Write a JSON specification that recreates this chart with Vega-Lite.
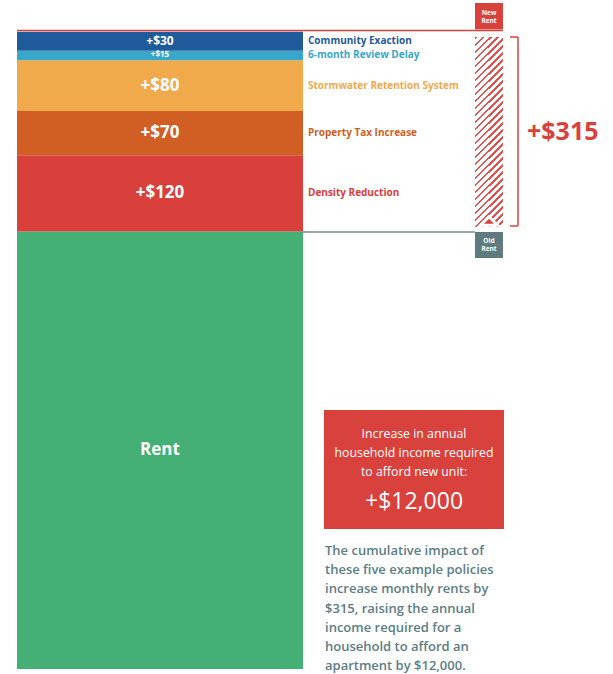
{
  "$schema": "https://vega.github.io/schema/vega-lite/v6.json",
  "width": 613,
  "height": 674,
  "autosize": {"type": "none"},
  "padding": 0,
  "background": "white",
  "config": {
    "view": {"stroke": null},
    "axis": {"disable": true},
    "legend": {"disable": true},
    "font": "Open Sans"
  },
  "datasets": {
    "rents": [
      {"item": "Rent", "label": "Rent", "amount": 690, "level": 1},
      {"item": "Density Reduction", "label": "+$120", "amount": 120, "level": 2},
      {"item": "Property Tax Increase", "label": "+$70", "amount": 70, "level": 3},
      {"item": "Stormwater Retention System", "label": "+$80", "amount": 80, "level": 4},
      {"item": "6-month Review Delay", "label": "+$15", "amount": 15, "level": 5},
      {"item": "Community Exaction", "label": "+$30", "amount": 30, "level": 6}
    ]
  },
  "resolve": {"scale": {"x": "independent"}},
  "layer": [
    {
      "data": {"name": "rents"},
      "layer": [
        {
          "mark": {"type": "bar"},
          "encoding": {
            "x": {"datum": "rent", "type": "nominal", "scale": {"paddingInner": 0, "paddingOuter": 0.5717, "align": 0.052}},
            "y": {"field": "amount", "type": "quantitative", "stack": "zero", "scale": {"domain": [-8, 1055], "nice": false, "zero": false}},
            "order": {"field": "level", "type": "quantitative"},
            "color": {
              "field": "item", "type": "nominal",
              "scale": {
                "domain": ["Rent", "Density Reduction", "Property Tax Increase", "Stormwater Retention System", "6-month Review Delay", "Community Exaction"],
                "range": ["#45b076", "#d9403c", "#d15e22", "#f1aa4b", "#38a7c9", "#1f5a9b"]
              },
              "legend": null
            }
          }
        },
        {
          "mark": {"type": "text", "color": "white", "font": "Open Sans", "fontWeight": "bold", "baseline": "middle", "align": "center"},
          "encoding": {
            "x": {"datum": "rent", "type": "nominal"},
            "y": {"field": "amount", "type": "quantitative", "stack": "zero", "bandPosition": 0.5},
            "order": {"field": "level", "type": "quantitative"},
            "detail": {"field": "item", "type": "nominal"},
            "size": {"condition": [{"test": "datum.amount < 20", "value": 8}, {"test": "datum.amount < 40", "value": 12}], "value": 17},
            "text": {"field": "label"}
          }
        },
        {
          "mark": {"type": "text", "font": "Open Sans", "fontWeight": "bold", "fontSize": 10, "baseline": "middle", "align": "left", "dx": 5},
          "encoding": {
            "x": {"datum": "rent", "type": "nominal", "bandPosition": 1},
            "y": {"field": "amount", "type": "quantitative", "stack": "zero", "bandPosition": 0.5},
            "order": {"field": "level", "type": "quantitative"},
            "color": {"field": "item", "type": "nominal", "legend": null},
            "opacity": {"condition": {"test": "datum.item === 'Rent'", "value": 0}, "value": 1},
            "text": {"field": "item"}
          }
        }
      ]
    },
    {
      "data": {"values": [{}]},
      "layer": [
        {
          "mark": {"type": "rule", "color": "#9aa7ab", "strokeWidth": 2},
          "encoding": {
            "x": {"datum": 49.43, "type": "quantitative", "scale": {"domain": [0, 100], "nice": false, "zero": false}},
            "x2": {"datum": 77.49},
            "y": {"datum": 689, "type": "quantitative"}
          }
        },
        {
          "mark": {"type": "rule", "color": "#d9413d", "strokeWidth": 1.5},
          "encoding": {
            "x": {"datum": 2.77, "type": "quantitative"},
            "x2": {"datum": 82.05},
            "y": {"datum": 1007, "type": "quantitative"}
          }
        },
        {
          "mark": {"type": "rect", "color": "#d9413d"},
          "encoding": {
            "x": {"datum": 77.49, "type": "quantitative"},
            "x2": {"datum": 82.05},
            "y": {"datum": 1008.6, "type": "quantitative"},
            "y2": {"datum": 1050.3}
          }
        },
        {
          "mark": {"type": "text", "text": "New\nRent", "lineBreak": "\n", "lineHeight": 8, "color": "white", "fontSize": 6.5, "fontWeight": "bold", "align": "center", "baseline": "middle"},
          "encoding": {
            "x": {"datum": 79.77, "type": "quantitative"},
            "y": {"datum": 1034.5, "type": "quantitative"}
          }
        },
        {
          "mark": {
            "type": "rect",
            "fill": {
              "gradient": "linear", "x1": 0, "y1": 0, "x2": 0.1591, "y2": 1.1195,
              "stops": [
                {"offset": 0, "color": "#e0524e"}, {"offset": 0.0115, "color": "#e0524e"}, {"offset": 0.0115, "color": "#ffffff"},
                {"offset": 0.0323, "color": "#ffffff"}, {"offset": 0.0323, "color": "#e0524e"}, {"offset": 0.0438, "color": "#e0524e"}, {"offset": 0.0438, "color": "#ffffff"},
                {"offset": 0.0645, "color": "#ffffff"}, {"offset": 0.0645, "color": "#e0524e"}, {"offset": 0.0760, "color": "#e0524e"}, {"offset": 0.0760, "color": "#ffffff"},
                {"offset": 0.0968, "color": "#ffffff"}, {"offset": 0.0968, "color": "#e0524e"}, {"offset": 0.1083, "color": "#e0524e"}, {"offset": 0.1083, "color": "#ffffff"},
                {"offset": 0.1290, "color": "#ffffff"}, {"offset": 0.1290, "color": "#e0524e"}, {"offset": 0.1406, "color": "#e0524e"}, {"offset": 0.1406, "color": "#ffffff"},
                {"offset": 0.1613, "color": "#ffffff"}, {"offset": 0.1613, "color": "#e0524e"}, {"offset": 0.1728, "color": "#e0524e"}, {"offset": 0.1728, "color": "#ffffff"},
                {"offset": 0.1935, "color": "#ffffff"}, {"offset": 0.1935, "color": "#e0524e"}, {"offset": 0.2051, "color": "#e0524e"}, {"offset": 0.2051, "color": "#ffffff"},
                {"offset": 0.2258, "color": "#ffffff"}, {"offset": 0.2258, "color": "#e0524e"}, {"offset": 0.2373, "color": "#e0524e"}, {"offset": 0.2373, "color": "#ffffff"},
                {"offset": 0.2581, "color": "#ffffff"}, {"offset": 0.2581, "color": "#e0524e"}, {"offset": 0.2696, "color": "#e0524e"}, {"offset": 0.2696, "color": "#ffffff"},
                {"offset": 0.2903, "color": "#ffffff"}, {"offset": 0.2903, "color": "#e0524e"}, {"offset": 0.3018, "color": "#e0524e"}, {"offset": 0.3018, "color": "#ffffff"},
                {"offset": 0.3226, "color": "#ffffff"}, {"offset": 0.3226, "color": "#e0524e"}, {"offset": 0.3341, "color": "#e0524e"}, {"offset": 0.3341, "color": "#ffffff"},
                {"offset": 0.3548, "color": "#ffffff"}, {"offset": 0.3548, "color": "#e0524e"}, {"offset": 0.3664, "color": "#e0524e"}, {"offset": 0.3664, "color": "#ffffff"},
                {"offset": 0.3871, "color": "#ffffff"}, {"offset": 0.3871, "color": "#e0524e"}, {"offset": 0.3986, "color": "#e0524e"}, {"offset": 0.3986, "color": "#ffffff"},
                {"offset": 0.4194, "color": "#ffffff"}, {"offset": 0.4194, "color": "#e0524e"}, {"offset": 0.4309, "color": "#e0524e"}, {"offset": 0.4309, "color": "#ffffff"},
                {"offset": 0.4516, "color": "#ffffff"}, {"offset": 0.4516, "color": "#e0524e"}, {"offset": 0.4631, "color": "#e0524e"}, {"offset": 0.4631, "color": "#ffffff"},
                {"offset": 0.4839, "color": "#ffffff"}, {"offset": 0.4839, "color": "#e0524e"}, {"offset": 0.4954, "color": "#e0524e"}, {"offset": 0.4954, "color": "#ffffff"},
                {"offset": 0.5161, "color": "#ffffff"}, {"offset": 0.5161, "color": "#e0524e"}, {"offset": 0.5276, "color": "#e0524e"}, {"offset": 0.5276, "color": "#ffffff"},
                {"offset": 0.5484, "color": "#ffffff"}, {"offset": 0.5484, "color": "#e0524e"}, {"offset": 0.5599, "color": "#e0524e"}, {"offset": 0.5599, "color": "#ffffff"},
                {"offset": 0.5806, "color": "#ffffff"}, {"offset": 0.5806, "color": "#e0524e"}, {"offset": 0.5922, "color": "#e0524e"}, {"offset": 0.5922, "color": "#ffffff"},
                {"offset": 0.6129, "color": "#ffffff"}, {"offset": 0.6129, "color": "#e0524e"}, {"offset": 0.6244, "color": "#e0524e"}, {"offset": 0.6244, "color": "#ffffff"},
                {"offset": 0.6452, "color": "#ffffff"}, {"offset": 0.6452, "color": "#e0524e"}, {"offset": 0.6567, "color": "#e0524e"}, {"offset": 0.6567, "color": "#ffffff"},
                {"offset": 0.6774, "color": "#ffffff"}, {"offset": 0.6774, "color": "#e0524e"}, {"offset": 0.6889, "color": "#e0524e"}, {"offset": 0.6889, "color": "#ffffff"},
                {"offset": 0.7097, "color": "#ffffff"}, {"offset": 0.7097, "color": "#e0524e"}, {"offset": 0.7212, "color": "#e0524e"}, {"offset": 0.7212, "color": "#ffffff"},
                {"offset": 0.7419, "color": "#ffffff"}, {"offset": 0.7419, "color": "#e0524e"}, {"offset": 0.7534, "color": "#e0524e"}, {"offset": 0.7534, "color": "#ffffff"},
                {"offset": 0.7742, "color": "#ffffff"}, {"offset": 0.7742, "color": "#e0524e"}, {"offset": 0.7857, "color": "#e0524e"}, {"offset": 0.7857, "color": "#ffffff"},
                {"offset": 0.8065, "color": "#ffffff"}, {"offset": 0.8065, "color": "#e0524e"}, {"offset": 0.8180, "color": "#e0524e"}, {"offset": 0.8180, "color": "#ffffff"},
                {"offset": 0.8387, "color": "#ffffff"}, {"offset": 0.8387, "color": "#e0524e"}, {"offset": 0.8502, "color": "#e0524e"}, {"offset": 0.8502, "color": "#ffffff"},
                {"offset": 0.8710, "color": "#ffffff"}, {"offset": 0.8710, "color": "#e0524e"}, {"offset": 0.8825, "color": "#e0524e"}, {"offset": 0.8825, "color": "#ffffff"},
                {"offset": 0.9032, "color": "#ffffff"}, {"offset": 0.9032, "color": "#e0524e"}, {"offset": 0.9147, "color": "#e0524e"}, {"offset": 0.9147, "color": "#ffffff"},
                {"offset": 0.9355, "color": "#ffffff"}, {"offset": 0.9355, "color": "#e0524e"}, {"offset": 0.9470, "color": "#e0524e"}, {"offset": 0.9470, "color": "#ffffff"},
                {"offset": 0.9677, "color": "#ffffff"}, {"offset": 0.9677, "color": "#e0524e"}, {"offset": 0.9792, "color": "#e0524e"}, {"offset": 0.9792, "color": "#ffffff"},
                {"offset": 1, "color": "#ffffff"}
              ]
            }
          },
          "encoding": {
            "x": {"datum": 77.49, "type": "quantitative"},
            "x2": {"datum": 82.05},
            "y": {"datum": 697, "type": "quantitative"},
            "y2": {"datum": 996.6}
          }
        },
        {
          "mark": {"type": "point", "shape": "M-1,0.5L0,-0.5L1,0.5Z", "filled": true, "fill": "#d9413d", "stroke": "white", "strokeWidth": 3, "opacity": 1, "size": 289},
          "encoding": {
            "x": {"datum": 79.77, "type": "quantitative"},
            "y": {"datum": 706.4, "type": "quantitative"}
          }
        },
        {
          "mark": {"type": "rect", "color": "#5f7b7e"},
          "encoding": {
            "x": {"datum": 77.49, "type": "quantitative"},
            "x2": {"datum": 82.05},
            "y": {"datum": 648.1, "type": "quantitative"},
            "y2": {"datum": 689.1}
          }
        },
        {
          "mark": {"type": "text", "text": "Old\nRent", "lineBreak": "\n", "lineHeight": 8, "color": "white", "fontSize": 6.5, "fontWeight": "bold", "align": "center", "baseline": "middle"},
          "encoding": {
            "x": {"datum": 79.77, "type": "quantitative"},
            "y": {"datum": 674.9, "type": "quantitative"}
          }
        },
        {
          "mark": {"type": "rule", "color": "#d9413d", "strokeWidth": 1.5},
          "encoding": {
            "x": {"datum": 84.5, "type": "quantitative"},
            "y": {"datum": 698.6, "type": "quantitative"},
            "y2": {"datum": 996.6}
          }
        },
        {
          "mark": {"type": "rule", "color": "#d9413d", "strokeWidth": 1.5},
          "encoding": {
            "x": {"datum": 83.2, "type": "quantitative"},
            "x2": {"datum": 84.5},
            "y": {"datum": 996.6, "type": "quantitative"}
          }
        },
        {
          "mark": {"type": "rule", "color": "#d9413d", "strokeWidth": 1.5},
          "encoding": {
            "x": {"datum": 83.2, "type": "quantitative"},
            "x2": {"datum": 84.5},
            "y": {"datum": 698.6, "type": "quantitative"}
          }
        },
        {
          "mark": {"type": "text", "text": "+$315", "color": "#d9413d", "fontSize": 25, "fontWeight": "bold", "align": "left", "baseline": "middle"},
          "encoding": {
            "x": {"datum": 85.97, "type": "quantitative"},
            "y": {"datum": 846.8, "type": "quantitative"}
          }
        },
        {
          "mark": {"type": "rect", "color": "#d9413d"},
          "encoding": {
            "x": {"datum": 52.85, "type": "quantitative"},
            "x2": {"datum": 82.22},
            "y": {"datum": 220.7, "type": "quantitative"},
            "y2": {"datum": 408.4}
          }
        },
        {
          "mark": {"type": "text", "text": "Increase in annual\nhousehold income required\nto afford new unit:", "lineBreak": "\n", "lineHeight": 19, "color": "white", "fontSize": 12.3, "align": "center", "baseline": "middle"},
          "encoding": {
            "x": {"datum": 67.54, "type": "quantitative"},
            "y": {"datum": 370.5, "type": "quantitative"}
          }
        },
        {
          "mark": {"type": "text", "text": "+$12,000", "color": "white", "fontSize": 23, "align": "center", "baseline": "middle"},
          "encoding": {
            "x": {"datum": 67.54, "type": "quantitative"},
            "y": {"datum": 263.3, "type": "quantitative"}
          }
        },
        {
          "mark": {"type": "text", "text": "The cumulative impact of\nthese five example policies\nincrease monthly rents by\n$315, raising the annual\nincome required for a\nhousehold to afford an\napartment by $12,000.", "lineBreak": "\n", "lineHeight": 19.2, "color": "#5b7d86", "fontSize": 13, "fontWeight": 600, "align": "left", "baseline": "middle"},
          "encoding": {
            "x": {"datum": 53.02, "type": "quantitative"},
            "y": {"datum": 186, "type": "quantitative"}
          }
        }
      ]
    }
  ]
}
